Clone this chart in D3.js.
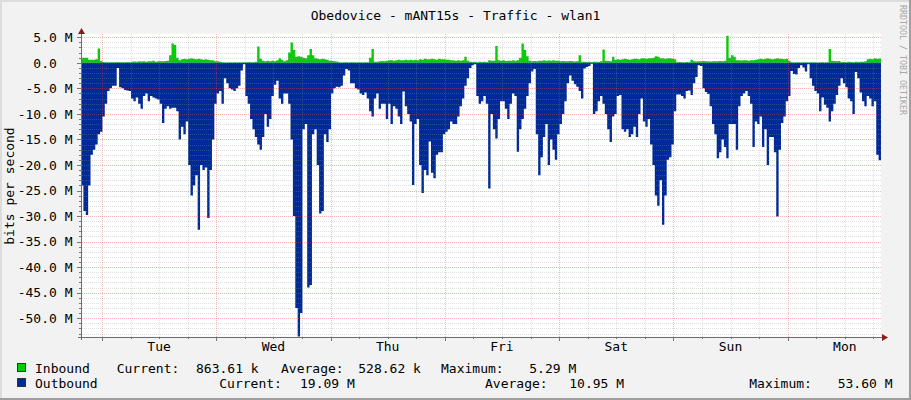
<!DOCTYPE html>
<html><head><meta charset="utf-8">
<script src="https://cdn.jsdelivr.net/npm/d3@7"></script>
<style>html,body{margin:0;padding:0;background:#F2F2F2;} svg{display:block;}</style>
</head><body>
<svg id="chart" width="911" height="400"></svg>
<script>
// ---------- data ----------
const title = "Obedovice - mANT15s - Traffic - wlan1";
const yAxisTitle = "bits per second";
const watermark = "RRDTOOL / TOBI OETIKER";
const dayLabels = ["Tue", "Wed", "Thu", "Fri", "Sat", "Sun", "Mon"];
const yTickValues = [5, 0, -5, -10, -15, -20, -25, -30, -35, -40, -45, -50];
const yTickLabels = ["5.0 M", "0.0\u00A0\u00A0", "-5.0 M", "-10.0 M", "-15.0 M", "-20.0 M", "-25.0 M", "-30.0 M", "-35.0 M", "-40.0 M", "-45.0 M", "-50.0 M"];
const stepHours = 0.5;          // one sample every 30 minutes
const spanHours = 168;          // one week
const firstMidnightHour = 4.4;  // hours from the start to Tuesday 00:00
const yTop = 5.7;

// Inbound (M bit/s)
const inbound = [
1.0,1.0,1.0,0.6,0.6,0.6,0.7,2.8,0.35,0.15,
0.1,0.1,0.1,0.1,0.1,0.15,0.1,0.1,0.1,0.15,
0.1,0.2,0.25,0.2,0.3,0.25,0.3,0.2,0.3,0.3,
0.4,0.2,0.3,0.3,0.3,0.35,0.4,1.5,3.8,3.5,
1.0,0.5,0.7,0.8,0.7,0.8,0.9,0.8,0.7,0.8,
0.7,0.6,0.7,0.6,0.5,0.5,0.3,0.3,0.2,0.1,
0.05,0.05,0.1,0.05,0.1,0.05,0.1,0.05,0.1,0.1,
0.15,0.1,0.1,0.2,3.2,0.8,0.4,0.3,0.4,0.3,
0.4,0.3,0.5,0.9,0.6,0.3,0.5,2.0,4.0,2.5,
1.2,1.3,1.2,1.0,0.9,1.5,2.7,1.5,0.9,0.8,
0.7,0.8,0.7,0.6,0.4,0.35,0.3,0.25,0.1,0.05,
0.1,0.1,0.05,0.1,0.1,0.05,0.1,0.1,0.05,0.1,
0.1,1.0,2.7,0.2,0.2,0.3,0.35,0.3,0.4,0.5,
0.5,0.4,0.5,0.6,0.5,0.5,0.6,0.5,0.6,0.5,
0.6,0.5,0.7,0.6,0.8,0.7,0.7,0.8,0.7,0.6,
0.8,0.7,0.7,0.6,0.6,0.5,0.5,0.4,0.5,0.4,
0.5,1.2,0.4,0.2,0.15,0.2,0.1,0.2,0.15,0.2,
0.1,0.5,0.4,0.4,3.3,0.5,0.4,0.5,0.35,0.4,
0.4,0.5,0.4,0.5,1.0,3.8,2.5,1.3,0.4,0.3,
0.35,0.3,0.4,0.4,0.5,0.4,0.45,0.4,0.5,0.4,
0.4,0.3,0.35,0.3,0.3,0.35,0.3,0.25,0.3,1.5,
0.2,0.2,0.15,0.2,0.15,0.2,0.2,0.15,0.3,2.6,
0.4,0.35,0.3,1.2,0.6,0.7,0.6,0.7,0.8,0.7,
0.6,0.7,0.8,0.8,0.7,0.9,0.9,0.8,0.9,0.9,
1.0,1.3,1.2,0.9,0.9,0.8,0.9,0.9,0.8,0.7,
0.1,0.15,0.1,0.1,0.15,0.1,0.6,0.3,0.25,0.3,
0.3,0.35,0.3,0.3,0.25,0.3,0.3,0.3,0.35,0.3,
0.4,5.29,1.0,1.5,1.2,0.5,0.5,0.45,0.5,0.5,
0.4,0.5,0.5,0.6,0.7,0.8,0.7,0.8,0.9,0.8,
0.7,0.8,0.9,0.8,0.8,0.7,0.8,0.4,0.1,0.05,
0.1,0.1,0.05,0.1,0.1,0.05,0.1,0.1,0.1,0.05,
0.1,0.1,0.05,0.1,2.7,0.4,0.35,0.3,0.35,0.1,
0.15,0.1,0.2,0.15,0.1,0.2,0.15,0.2,0.2,0.3,
0.7,0.8,0.7,0.9,0.8,0.86
];

// Outbound (M bit/s), drawn below zero
const outbound = [
24,29,29.8,24,18,17,16,14,13.5,10.5,
8,5.5,5,4.5,4.5,1,4.8,5,5.3,5.4,
5.5,7,7.5,6.8,8,9,6.5,6,7.5,6.5,
6.8,7,7.2,8,11.8,9,8.5,9,8.8,8.8,
9.5,15,12.5,14,11.5,20,26,24,22,32.7,
20,21,20.5,30.4,21,15,8,6,5.5,8,
3,4,5,5.2,5.5,5,4.5,1.5,0.3,6.5,
8,11,13,14.5,16,17,14.5,10,12.5,11,
6.5,4.3,3.5,7,8,6,6,8,15,30,
48,53.6,49,13,12,44,43.5,14,13,20,
29.5,29,14,15.5,13,6,5,4.7,4.8,4.5,
2.5,1.2,1.5,4,4,5,5.2,6,6.3,5.8,
7,9.5,10.5,7,6,9,8,8,11,8,
12,8.5,9,10.5,12,5.6,8.5,10,11.5,23.9,
12,11,20,25.5,21,22,15.4,21.5,22.6,18,
17.5,17.5,14,13.5,13,11.5,12,12,10.5,8.5,
7,4.5,3,1,0.5,0.3,6.5,8,7.5,6.5,
8,24.6,10,13,14.8,11,7.5,7.5,9,11,
8,6,6.5,17.4,13,11,9,6.5,4,1.7,
1.2,14,22,18.5,14.5,12,20,15,17,19,
14,12,10,7.5,4,2.5,3.5,4.2,4.7,5.5,
7,1.1,0.8,0.6,0.2,10,9.5,7.5,6.5,8,
10,13,15.5,10.5,10,6.5,6.3,13,13.5,13,
14.5,14,12.5,14.5,10,7,11.5,12.5,11,16,
20,26,28,23,31.7,26,19,18.5,16,9.5,
6.2,6.2,6.5,7,5.5,5.4,6.3,4,2.8,0.5,
0.6,5,5.7,6.1,8.5,12,14,18.7,17.5,15,
16.5,18.7,12,12,12,17,8.5,6.5,6,5.5,
6.5,8,16.5,11.5,12,10.5,16.5,13,20,14.5,
14.5,17.5,30.1,17,11.8,10.5,7.5,6.5,1.6,2.2,
2.3,1,0.5,0.9,1.7,0.3,3,4.5,5.5,6,
9.5,6.8,8.2,8.8,11.5,9.5,8,6.3,4.5,3,
4,4.8,7,7.5,10,1.8,3,5.8,7.5,8.5,
6.5,7,8.5,7.5,18,19.09
];

const seriesNames = ["Inbound", "Outbound"];
const seriesColors = ["#00CF00", "#002A97"];
const legendCurrent = ["863.61 k", "19.09 M"];
const legendAverage = ["528.62 k", "10.95 M"];
const legendMaximum = ["5.29 M", "53.60 M"];

// ---------- drawing ----------
const W = 911, H = 400;
const L = 81, R = 881, T = 33.7, B = 336.6;
const FONT = "'DejaVu Sans Mono', monospace";
const svg = d3.select("#chart");

svg.append("rect").attr("width", W).attr("height", H).attr("fill", "#F2F2F2");
// 3D frame
svg.append("rect").attr("x", 0).attr("y", 0).attr("width", W).attr("height", 2).attr("fill", "#DCDCDC");
svg.append("rect").attr("x", 0).attr("y", 0).attr("width", 2).attr("height", H).attr("fill", "#DCDCDC");
svg.append("rect").attr("x", W - 2).attr("y", 0).attr("width", 2).attr("height", H).attr("fill", "#9E9E9E");
svg.append("rect").attr("x", 0).attr("y", H - 2).attr("width", W).attr("height", 2).attr("fill", "#9E9E9E");

const x = d3.scaleLinear().domain([0, spanHours]).range([L, R]);
const y = d3.scaleLinear().domain([-d3.max(outbound), yTop]).range([B, T]);

// canvas
svg.append("rect").attr("x", L).attr("y", T).attr("width", R - L).attr("height", B - T).attr("fill", "#FFFFFF");

function points(arr, sign) {
  const p = arr.map((v, i) => [i * stepHours, sign * v]);
  p.push([spanHours, sign * arr[arr.length - 1]]);
  return p;
}
const area = d3.area().x(d => x(d[0])).y0(y(0)).y1(d => y(d[1])).curve(d3.curveStepAfter);
svg.append("path").attr("d", area(points(inbound, 1))).attr("fill", seriesColors[0]);
svg.append("path").attr("d", area(points(outbound, -1))).attr("fill", seriesColors[1]);

// grid (on top of data, like rrdtool)
const gMinor = "rgba(150,150,150,0.3)";
const gMajor = "rgba(235,70,70,0.38)";
const hVals = d3.range(Math.ceil(-d3.max(outbound)), Math.floor(yTop) + 1);
const grid = svg.append("g").attr("stroke-dasharray", "1,1").attr("shape-rendering", "crispEdges");
hVals.forEach(v => {
  const yy = Math.round(y(v)) + 0.5;
  grid.append("line").attr("x1", L + 1).attr("x2", R).attr("y1", yy).attr("y2", yy)
    .attr("stroke", v % 5 === 0 ? gMajor : gMinor);
});
const vVals = d3.range(firstMidnightHour % 6, spanHours, 6);
vVals.forEach(t => {
  const xx = Math.round(x(t)) + 0.5;
  const major = Math.abs(((t - firstMidnightHour) % 24)) < 1e-6;
  grid.append("line").attr("x1", xx).attr("x2", xx).attr("y1", T).attr("y2", B)
    .attr("stroke", major ? gMajor : gMinor);
});

// ticks
const ticks = svg.append("g").attr("stroke", "#777").attr("shape-rendering", "crispEdges");
hVals.forEach(v => {
  const yy = Math.round(y(v)) + 0.5;
  ticks.append("line").attr("x1", v % 5 === 0 ? 77 : 79).attr("x2", L).attr("y1", yy).attr("y2", yy);
});
vVals.forEach(t => {
  const xx = Math.round(x(t)) + 0.5;
  const major = Math.abs(((t - firstMidnightHour) % 24)) < 1e-6;
  ticks.append("line").attr("x1", xx).attr("x2", xx).attr("y1", B).attr("y2", major ? B + 4 : B + 2);
});

// axes
const axisY = Math.round(B) + 0.5;
svg.append("line").attr("x1", 78).attr("x2", 884).attr("y1", axisY).attr("y2", axisY)
  .attr("stroke", "#6E6E6E").attr("shape-rendering", "crispEdges");
svg.append("line").attr("x1", L + 0.5).attr("x2", L + 0.5).attr("y1", 340).attr("y2", 32)
  .attr("stroke", "#6E6E6E").attr("shape-rendering", "crispEdges");
svg.append("path").attr("d", `M${L + 0.5},28 L${L - 3},34 L${L + 4},34 Z`).attr("fill", "#8B1A1A");
svg.append("path").attr("d", `M888,${axisY} L882,${axisY - 3.5} L882,${axisY + 3.5} Z`).attr("fill", "#8B1A1A");

// y labels
const text = svg.append("g").attr("font-family", FONT).attr("font-size", "13px").attr("fill", "#000");
yTickValues.forEach((v, i) => {
  text.append("text").attr("x", 72.5).attr("y", y(v) + 4.8).attr("text-anchor", "end").text(yTickLabels[i]);
});
// x labels at noon
dayLabels.forEach((d, i) => {
  text.append("text").attr("x", x(firstMidnightHour + 12 + 24 * i)).attr("y", 351)
    .attr("text-anchor", "middle").text(d);
});
// title
text.append("text").attr("x", 455.5).attr("y", 19.5).attr("text-anchor", "middle").text(title);
// y axis title
text.append("text").attr("transform", "translate(14,186) rotate(-90)").attr("text-anchor", "middle").text(yAxisTitle);
// watermark
svg.append("text").attr("transform", "translate(900,5) rotate(90)").attr("font-family", FONT)
  .attr("font-size", "8.3px").attr("fill", "#A8A8A8").text(watermark);

// legend
const rows = [
  {base: 372.5, cols: [116.7, 196, 281, 358.3, 441, 529.3]},
  {base: 387.5, cols: [219.3, 300, 485, 569.3, 749.3, 837.7]}
];
seriesNames.forEach((name, i) => {
  const r = rows[i];
  svg.append("rect").attr("x", 17.5).attr("y", r.base - 9).attr("width", 8).attr("height", 8)
    .attr("fill", seriesColors[i]).attr("stroke", "#333").attr("stroke-width", 1);
  text.append("text").attr("x", 35).attr("y", r.base).text(name);
  const items = ["Current:", legendCurrent[i], "Average:", legendAverage[i], "Maximum:", legendMaximum[i]];
  items.forEach((s, j) => {
    text.append("text").attr("x", r.cols[j]).attr("y", r.base).text(s);
  });
});
</script>
</body></html>
